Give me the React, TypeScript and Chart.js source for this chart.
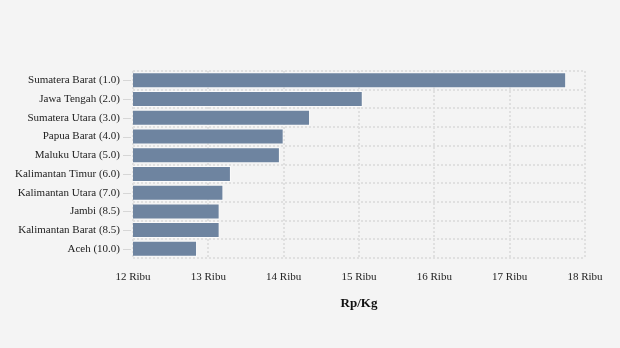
import React, { useEffect, useRef } from "react";
import { Chart, registerables } from "chart.js";

Chart.register(...registerables);

const categories = [
  "Sumatera Barat (1.0)",
  "Jawa Tengah (2.0)",
  "Sumatera Utara (3.0)",
  "Papua Barat (4.0)",
  "Maluku Utara (5.0)",
  "Kalimantan Timur (6.0)",
  "Kalimantan Utara (7.0)",
  "Jambi (8.5)",
  "Kalimantan Barat (8.5)",
  "Aceh (10.0)",
];
const prices = [17750, 15050, 14350, 14000, 13950, 13300, 13200, 13150, 13150, 12850];
const xMin = 12000;
const xMax = 18000;
const axisTitle = "Rp/Kg";

const FONT = "'Liberation Serif', 'Times New Roman', serif";
const GRID = "#e0e0e0";

const tickMarks = {
  id: "tickMarks",
  afterDraw(chart: any) {
    const y = chart.scales.y;
    const ctx = chart.ctx;
    ctx.save();
    ctx.strokeStyle = "#d6d6d6";
    ctx.lineWidth = 1;
    y.ticks.forEach((_t: any, i: number) => {
      const py = Math.round(y.getPixelForTick(i)) + 0.5;
      ctx.beginPath();
      ctx.moveTo(y.right - 10, py);
      ctx.lineTo(y.right - 2, py);
      ctx.stroke();
    });
    ctx.restore();
  },
};

const bg = {
  id: "bg",
  beforeDraw(c: any) {
    const ctx = c.ctx;
    ctx.save();
    ctx.fillStyle = "#f4f4f4";
    ctx.fillRect(0, 0, c.width, c.height);
    ctx.restore();
  },
};

export default function App() {
  const ref = useRef<HTMLCanvasElement>(null);
  useEffect(() => {
    document.body.style.margin = "0";
    const chart = new Chart(ref.current!, {
      type: "bar",
      data: {
        labels: categories,
        datasets: [
          {
            data: prices,
            backgroundColor: "#6e84a0",
            borderColor: "rgba(255,255,255,0.6)",
            borderWidth: 1,
            barPercentage: 0.95,
            categoryPercentage: 0.9,
          },
        ],
      },
      options: {
        indexAxis: "y",
        animation: false,
        responsive: false,
        layout: { padding: { top: 71, right: 35, bottom: 37, left: 0 } },
        plugins: { legend: { display: false }, tooltip: { enabled: false } },
        scales: {
          x: {
            min: xMin,
            max: xMax,
            border: { display: false, dash: [2, 2] },
            grid: { color: GRID, drawTicks: false, lineWidth: 2 },
            ticks: {
              stepSize: 1000,
              padding: 12,
              color: "#222",
              font: { family: FONT, size: 11 },
              callback: (v: any) => `${Number(v) / 1000} Ribu`,
            },
            title: {
              display: true,
              text: axisTitle,
              color: "#111",
              font: { family: FONT, size: 13, weight: "bold" },
              padding: { top: 0, bottom: 0 },
            },
          },
          y: {
            border: { display: false, dash: [2, 2] },
            grid: { color: GRID, drawTicks: false, offset: true, lineWidth: 2 },
            ticks: {
              padding: 13,
              color: "#222",
              font: { family: FONT, size: 11 },
            },
            afterFit: (s: any) => {
              s.width = 133;
            },
          },
        },
      },
      plugins: [tickMarks, bg],
    } as any);
    return () => chart.destroy();
  }, []);
  return (
    <div style={{ width: 620, height: 348, background: "#f4f4f4" }}>
      <canvas ref={ref} width={620} height={348} />
    </div>
  );
}
